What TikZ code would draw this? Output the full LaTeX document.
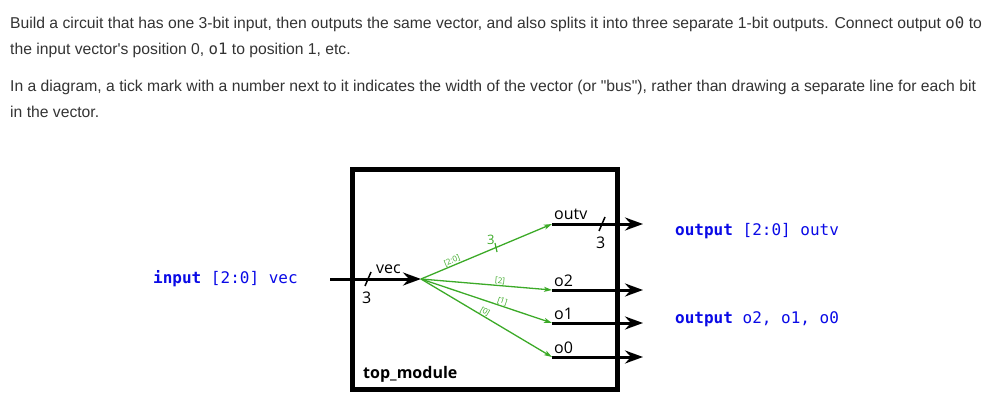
\documentclass[tikz,border=0pt]{standalone}
\usepackage{fontspec}
\setmainfont{Liberation Sans}
\setsansfont{Open Sans}
\setmonofont{DejaVu Sans Mono}
\usetikzlibrary{arrows.meta}
\definecolor{txtgray}{RGB}{51,51,51}
\definecolor{declblue}{RGB}{10,10,230}
\definecolor{splitgreen}{RGB}{60,170,40}
\tikzset{
  para/.style={anchor=base west,inner sep=0pt,text=txtgray,font=\fontsize{15.7}{18}\selectfont},
  decl/.style={anchor=base west,inner sep=0pt,text=declblue,font=\ttfamily\fontsize{16}{18}\selectfont},
  sig/.style={anchor=base west,inner sep=0pt,font=\sffamily\fontsize{16}{18}\selectfont},
  bus/.style={line width=3pt,-{Stealth[length=18pt,width=13pt,inset=6pt]}},
  split/.style={splitgreen,line width=1.3pt,-{Stealth[length=8pt,width=5pt,inset=2pt]}},
  bitsel/.style={splitgreen,font=\sffamily\fontsize{8}{9}\selectfont,inner sep=0pt,outer sep=1pt,sloped,above},
  tick/.style={line width=1.5pt}
}

\begin{document}
\begin{tikzpicture}[x=1pt,y=-1pt]
\useasboundingbox (0,0) rectangle (1006,406);
\node[para] (line1) at (10,29) {Build a circuit that has one 3-bit input, then outputs the same vector, and also splits it into three separate 1-bit outputs. Connect output {\ttfamily o0} to};
\node[para] (line2) at (10,55) {the input vector\textquotesingle s position 0, {\ttfamily o1} to position 1, etc.};
\node[para] (line3) at (10,92) {In a diagram, a tick mark with a number next to it indicates the width of the vector (or \textquotedbl bus\textquotedbl), rather than drawing a separate line for each bit};
\node[para] (line4) at (10,118) {in the vector.};

\draw[line width=5pt] (352.5,169.5) rectangle (617.5,389.5);
\node[sig,font=\sffamily\bfseries\fontsize{16}{18}\selectfont] (top) at (363,378) {top\_module};

\node[decl] (indecl) at (153,283) {\textbf{input} [2:0] vec};
\node[decl] (outvdecl) at (675,235) {\textbf{output} [2:0] outv};
\node[decl] (odecl) at (675,323) {\textbf{output} o2, o1, o0};

\coordinate (vecin) at (330,279);
\coordinate (fan) at (421,279);
\coordinate (outv) at (552,224);
\coordinate (o2) at (552,290);
\coordinate (o1) at (552,323);
\coordinate (o0) at (552,357);
\draw[bus] (vecin) -- (fan);
\node[sig] (veclbl) at (376,273) {vec};
\draw[tick] (365,286) -- (371,272);
\node[sig] (vecw) at (362,303) {3};

\draw[split] (fan) -- node[bitsel,pos=0.25] (sel20) {[2:0]} (outv);
\draw[split] (fan) -- node[bitsel,pos=0.6] (sel2) {[2]} (o2);
\draw[split] (fan) -- node[bitsel,pos=0.61] (sel1) {[1]} (o1);
\draw[split] (fan) -- node[bitsel,pos=0.47] (sel0) {[0]} (o0);
\draw[splitgreen,line width=1.2pt] (495,243) -- (497,252);
\node[sig,text=splitgreen,font=\sffamily\fontsize{13}{14}\selectfont] (splitw) at (487,244) {3};

\foreach \s/\lbl/\yb in {outv/outv/219,o2/o2/286,o1/o1/319,o0/o0/353}{
  \draw[bus] (\s) -- ++(91,0);
  \node[sig] (\s lbl) at (554,\yb) {\lbl};
}
\draw[tick] (599,231) -- (605,217);
\node[sig] (outvw) at (596,248) {3};
\end{tikzpicture}
\end{document}
